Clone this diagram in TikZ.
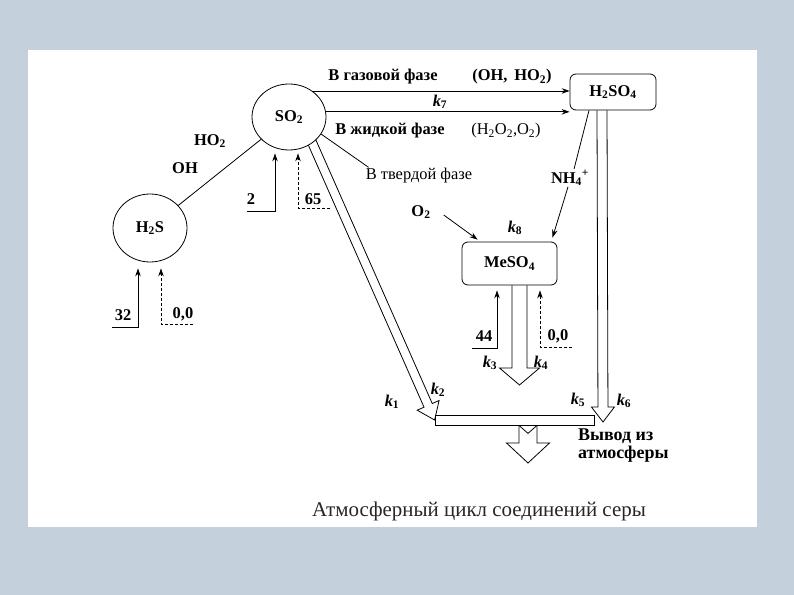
\documentclass[tikz,border=0pt]{standalone}
\usepackage{fontspec}
\setmainfont{Liberation Serif}
\usetikzlibrary{arrows.meta, positioning, calc, shapes.geometric}
\pgfdeclarelayer{paper}
\pgfdeclarelayer{under}
\pgfsetlayers{paper,under,main}
\definecolor{slate}{RGB}{196,208,219}
\newcommand{\labfont}{\fontsize{16.5}{19}\selectfont\bfseries}
\newcommand{\kcoef}[1]{\textbf{\textit{k}}\textsubscript{#1}}
\tikzset{
  sub/.style={ellipse, draw, thick, fill=white, minimum width=74bp, minimum height=66bp, inner sep=1pt, font=\labfont},
  box/.style={draw, thick, rounded corners=6bp, fill=white, inner sep=0pt, font=\labfont},
  tra/.style={-{Stealth[length=8bp,width=5.5bp]}, thick},
  dsh/.style={tra, dash pattern=on 3bp off 2bp},
  tlab/.style={font=\labfont, inner sep=1pt},
  hol/.style={draw, thick, line join=miter}
}
% hollow arrow: start, tip, shaft half width, head half width, head length
\newcommand{\hollowarr}[5]{%
  \coordinate (hb) at ($(#2)!#5!(#1)$);
  \draw[hol] ($(#1)!#3!90:(#2)$) -- ($(hb)!#3!90:(#2)$) -- ($(hb)!#4!90:(#2)$) -- (#2)
    -- ($(hb)!#4!-90:(#2)$) -- ($(hb)!#3!-90:(#2)$) -- ($(#1)!#3!-90:(#2)$);}

\begin{document}
\begin{tikzpicture}[x=1bp, y=-1bp]
  \useasboundingbox (0,0) rectangle (794,595);
  \begin{pgfonlayer}{paper}
    \fill[slate] (0,0) rectangle (794,595);
    \fill[white] (28,50) rectangle (757,527);
  \end{pgfonlayer}
  % compounds
  \node[sub] (so2) at (289,117) {SO\textsubscript{2}};
  \node[sub, minimum height=68bp] (h2s) at (150,228) {H\textsubscript{2}S};
  \node[box, minimum width=86bp, minimum height=36bp] (h2so4) at (613,92) {H\textsubscript{2}SO\textsubscript{4}};
  \node[box, minimum width=95bp, minimum height=43bp] (meso4) at (509.5,263.5) {MeSO\textsubscript{4}};
  \node[draw, thick, fill=white, minimum width=159bp, minimum height=10bp, inner sep=0pt] (bar) at (514.5,420) {};

  % SO2 -> H2SO4
  \draw[tra] (so2.48) -- (so2.48 -| h2so4.west);
  \draw[tra] (so2.8) -- (so2.8 -| h2so4.west);
  \node[tlab] (gas) at (383,77) {В газовой фазе};
  \node[tlab] (gasr) at (512,77) {(OH,\, HO\textsubscript{2})};
  \node[tlab] (k7) at (440,102) {\kcoef{7}};
  \node[tlab] (liq) at (390,131) {В жидкой фазе};
  \node[tlab, font=\labfont\mdseries] (liqr) at (506,131) {(H\textsubscript{2}O\textsubscript{2},O\textsubscript{2})};
  \node[tlab, font=\labfont\mdseries] (sol) at (419,176) {В твердой фазе};
  \draw[thick] (so2.-28) -- ([xshift=4bp]sol.north west);

  % H2S -> SO2
  \draw[thick] (h2s) -- (so2);
  \node[tlab] (ho2) at (210,141) {HO\textsubscript{2}};
  \node[tlab] (oh) at (185,168) {OH};

  % sources
  \coordinate (in2) at (247,211);
  \coordinate (in65) at (330,208);
  \draw[tra] (in2) -| ([xshift=-14bp,yshift=-3bp]so2.south);
  \draw[dsh] (in65) -| ([xshift=9bp,yshift=-3bp]so2.south);
  \node[tlab] (n2) at (251,199) {2};
  \node[tlab] (n65) at (313,199) {65};
  \coordinate (in32) at (112,327);
  \coordinate (in00) at (193,324);
  \draw[tra] (in32) -| ([xshift=-12bp,yshift=-6bp]h2s.south);
  \draw[dsh] (in00) -| ([xshift=11bp,yshift=-6bp]h2s.south);
  \node[tlab] (n32) at (123,315) {32};
  \node[tlab] (n00) at (183,314) {0,0};
  \coordinate (in44) at (472,348);
  \coordinate (in00b) at (572,347);
  \draw[tra] (in44) -| ([xshift=-12.5bp,yshift=-5bp]meso4.south);
  \draw[dsh] (in00b) -| ([xshift=30.5bp,yshift=-5bp]meso4.south);
  \node[tlab] (n44) at (484,336) {44};
  \node[tlab] (n00b) at (558,336) {0,0};

  % to MeSO4
  \node[tlab] (o2) at (421,212) {O\textsubscript{2}};
  \draw[tra] ([xshift=12bp,yshift=-3bp]o2.east) -- ([xshift=16bp,yshift=2bp]meso4.north west);
  \node[tlab] (k8) at (515,228) {\kcoef{8}};
  \node[tlab] (nh4) at (570,178) {NH\textsubscript{4}\textsuperscript{+}};
  \draw[thick] ([xshift=-24bp]h2so4.south) -- ([xshift=4bp]nh4.north);
  \draw[tra] ([xshift=-2bp]nh4.south) -- ([xshift=43bp,yshift=4bp]meso4.north);

  % removal
  \coordinate (s12) at ($(so2.center)!0.85!(so2.-45)$);
  \begin{pgfonlayer}{under}
    \hollowarr{s12}{bar.west}{4.5bp}{12bp}{16bp}
  \end{pgfonlayer}
  \node[tlab] (k1) at (392,402) {\kcoef{1}};
  \node[tlab] (k2) at (438,390) {\kcoef{2}};
  \coordinate (s56) at ([xshift=-11bp]h2so4.south);
  \coordinate (tip56) at (603,422);
  \hollowarr{s56}{tip56}{5bp}{11.5bp}{15bp}
  \node[tlab] (k5) at (578,400) {\kcoef{5}};
  \node[tlab] (k6) at (624,401) {\kcoef{6}};
  \coordinate (s34) at ([xshift=10bp]meso4.south);
  \coordinate (tip34) at (519.5,385);
  \hollowarr{s34}{tip34}{7.5bp}{20bp}{17bp}
  \node[tlab] (k3) at (490,363) {\kcoef{3}};
  \node[tlab] (k4) at (541,363) {\kcoef{4}};
  \coordinate (sout) at ([xshift=13.5bp]bar.south);
  \coordinate (tipout) at (528,463);
  \hollowarr{sout}{tipout}{9bp}{21.5bp}{20bp}
  \draw[thick] ([xshift=-9bp]sout) -- ++(9,8) -- ++(9,-8);
  \node[tlab, font=\fontsize{18}{18}\selectfont\bfseries, align=left, anchor=north west] (out) at (577,428) {Вывод из\\атмосферы};

  \node[font=\fontsize{21}{24}\selectfont, text=black!85] (cap) at (479,511) {Атмосферный цикл соединений серы};
\end{tikzpicture}
\end{document}
